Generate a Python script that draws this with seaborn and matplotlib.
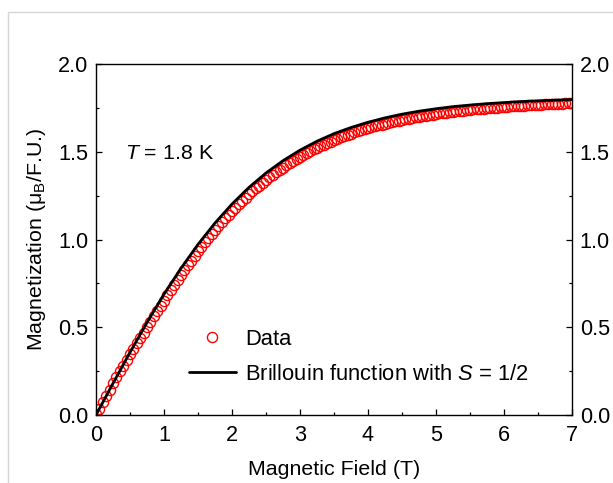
import matplotlib
matplotlib.use('Agg')
import numpy as np
import matplotlib.pyplot as plt
import seaborn as sns
from matplotlib.patches import Rectangle
from matplotlib.ticker import AutoMinorLocator, FormatStrFormatter

# measured magnetization (mu_B / F.U.) vs field (T), T = 1.8 K
field = np.round(np.arange(0, 141) * 0.05, 2)
magnet = [
    0.004, 0.036, 0.072, 0.108, 0.144, 0.180, 0.216, 0.249, 0.281, 0.313,
    0.345, 0.377, 0.408, 0.439, 0.470, 0.501, 0.531, 0.562, 0.592, 0.622,
    0.652, 0.681, 0.711, 0.740, 0.768, 0.796, 0.825, 0.852, 0.879, 0.906,
    0.932, 0.958, 0.983, 1.007, 1.031, 1.054, 1.077, 1.099, 1.120, 1.141,
    1.162, 1.182, 1.201, 1.220, 1.239, 1.257, 1.274, 1.291, 1.307, 1.323,
    1.339, 1.354, 1.368, 1.383, 1.397, 1.410, 1.423, 1.436, 1.448, 1.460,
    1.471, 1.482, 1.493, 1.503, 1.513, 1.523, 1.532, 1.541, 1.550, 1.558,
    1.567, 1.574, 1.582, 1.589, 1.597, 1.603, 1.610, 1.616, 1.623, 1.629,
    1.634, 1.640, 1.645, 1.650, 1.655, 1.660, 1.665, 1.669, 1.674, 1.678,
    1.682, 1.686, 1.689, 1.693, 1.697, 1.700, 1.703, 1.706, 1.709, 1.712,
    1.715, 1.718, 1.720, 1.723, 1.726, 1.728, 1.730, 1.733, 1.735, 1.737,
    1.739, 1.741, 1.742, 1.744, 1.746, 1.748, 1.749, 1.751, 1.752, 1.754,
    1.756, 1.757, 1.758, 1.759, 1.761, 1.762, 1.763, 1.764, 1.766, 1.766,
    1.768, 1.769, 1.770, 1.771, 1.772, 1.772, 1.773, 1.774, 1.775, 1.776,
    1.777,
]

# Brillouin curve, S = 1/2
fit_field = [0, 0.25, 0.5, 0.75, 1.0, 1.25, 1.5, 1.75, 2.0, 2.25, 2.5, 2.75,
             3.0, 3.25, 3.5, 3.75, 4.0, 4.25, 4.5, 4.75, 5.0, 5.25, 5.5,
             5.75, 6.0, 6.25, 6.5, 6.75, 7.0]
fit_magnet = [0, 0.180, 0.357, 0.527, 0.688, 0.836, 0.972, 1.094, 1.202,
              1.297, 1.379, 1.449, 1.509, 1.560, 1.603, 1.638, 1.668, 1.693,
              1.714, 1.731, 1.745, 1.757, 1.766, 1.774, 1.780, 1.786, 1.790,
              1.794, 1.797]

sns.set_theme(style='ticks')
plt.rcParams['font.family'] = ['Liberation Sans', 'DejaVu Sans']
plt.rcParams['mathtext.fontset'] = 'custom'
plt.rcParams['mathtext.rm'] = 'Liberation Sans'
plt.rcParams['mathtext.it'] = 'Liberation Sans:italic'
plt.rcParams['text.color'] = 'black'
plt.rcParams['axes.labelcolor'] = 'black'
plt.rcParams['xtick.color'] = 'black'
plt.rcParams['ytick.color'] = 'black'

fig = plt.figure(figsize=(6.13, 4.83), dpi=100)
fig.patches.append(Rectangle((7.5 / 613, -0.05), 1.2, 1.05 - 12 / 483,
                             transform=fig.transFigure, fill=False,
                             ec='#d6d6d6', lw=1))
ax = fig.add_axes([96 / 613, 68 / 483, 476 / 613, 351 / 483])

sns.lineplot(x=field, y=magnet, marker='o', linestyle='none',
             markerfacecolor='none', markeredgecolor='red', markersize=7.3,
             markeredgewidth=1, label='Data', errorbar=None, ax=ax, zorder=2)
sns.lineplot(x=fit_field, y=fit_magnet, color='black', lw=2,
             label='Brillouin function with $S$ = 1/2', errorbar=None,
             ax=ax, zorder=3)

ax.set_xlim(0, 7)
ax.set_ylim(0, 2.0)
ax.set_xticks(range(0, 8))
ax.set_yticks([0, 0.5, 1.0, 1.5, 2.0])
ax.yaxis.set_major_formatter(FormatStrFormatter('%.1f'))
ax.xaxis.set_minor_locator(AutoMinorLocator(2))
ax.yaxis.set_minor_locator(AutoMinorLocator(2))
ax.tick_params(which='both', direction='in', top=False, right=True,
               labelright=True, width=0.9, colors='black')
ax.tick_params(which='major', length=4.5, labelsize=15.6)
ax.tick_params(which='minor', length=2.5)
ax.tick_params(axis='x', pad=7)
ax.tick_params(axis='y', pad=5.5)
for sp in ax.spines.values():
    sp.set_color('black')
    sp.set_linewidth(1.0)

ax.set_xlabel('Magnetic Field (T)', fontsize=15.4, labelpad=10)
ax.set_ylabel('Magnetization (μ$_{\\mathrm{B}}$/F.U.)', fontsize=15.4,
              labelpad=7)

ax.text(0.061, 0.746, '$T$ = 1.8 K', fontsize=15.4, va='center',
        transform=ax.transAxes)

ax.legend(loc='upper left', bbox_to_anchor=(0.195, 0.245), frameon=False,
          fontsize=15.8, handlelength=2.15, handletextpad=0.42,
          labelspacing=0.63, borderpad=0, borderaxespad=0)

fig.savefig('out.png', dpi=100)
